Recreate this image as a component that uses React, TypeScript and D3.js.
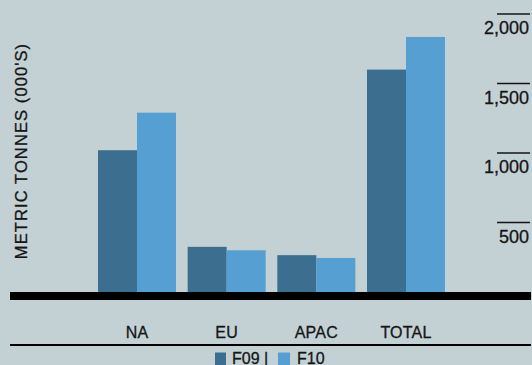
import React from "react";
import * as d3 from "d3";

// Regional volumes, metric tonnes (000's)
const categories = ["NA", "EU", "APAC", "TOTAL"];
const seriesNames = ["F09", "F10"];
const f09Values = [1020, 325, 265, 1600];
const f10Values = [1290, 300, 245, 1835];
const tickValues = [500, 1000, 1500, 2000];
const yTitle = "METRIC TONNES (000'S)";

const W = 532;
const H = 365;
const BG = "#c3d1d5";
const COLORS = ["#3c6e8f", "#569fd3"];
const INK = "#151515";
const FONT = "'Liberation Sans', Arial, sans-serif";

export default function App() {
  const baseline = 292;
  const y = d3.scaleLinear().domain([0, 2000]).range([baseline, 14]);
  const x = d3.scaleBand<string>().domain(categories).range([98, 445]).paddingInner(0.13).paddingOuter(0);
  const xs = d3.scaleBand<string>().domain(seriesNames).range([0, x.bandwidth()]).padding(0);
  const color = d3.scaleOrdinal<string, string>().domain(seriesNames).range(COLORS);

  const series = [f09Values, f10Values];
  const textStyle = { fill: INK, stroke: INK, strokeWidth: 0.3 };

  return (
    <svg
      width={W}
      height={H}
      style={{ position: "absolute", left: 0, top: 0, background: BG, fontFamily: FONT }}
    >
      <rect x={0} y={0} width={W} height={H} fill={BG} />

      {/* bars */}
      {categories.map((c, i) => (
        <g key={c} transform={`translate(${x(c)},0)`}>
          {seriesNames.map((s, j) => {
            const v = series[j][i];
            return (
              <rect
                key={s}
                x={xs(s)}
                y={y(v)}
                width={xs.bandwidth()}
                height={baseline - y(v)}
                fill={color(s)}
              />
            );
          })}
        </g>
      ))}

      {/* right-hand value axis */}
      {tickValues.map((t) => (
        <g key={t}>
          <line x1={497} x2={530} y1={y(t)} y2={y(t)} stroke={INK} strokeWidth={1.3} />
          <text x={529} y={y(t) + 20} textAnchor="end" fontSize={18} {...textStyle}>
            {d3.format(",")(t)}
          </text>
        </g>
      ))}

      {/* base axis */}
      <rect x={10} y={baseline} width={521} height={8} fill="#000" />

      {/* category labels */}
      {categories.map((c) => (
        <text
          key={c}
          x={(x(c) ?? 0) + x.bandwidth() / 2}
          y={338}
          textAnchor="middle"
          fontSize={16}
          letterSpacing={0.2}
          {...textStyle}
        >
          {c}
        </text>
      ))}

      <rect x={10} y={344} width={521} height={2} fill="#000" />

      {/* legend */}
      <g>
        <rect x={215} y={352.5} width={11} height={14} fill={COLORS[0]} />
        <text x={232} y={364} fontSize={16} {...textStyle}>
          {seriesNames[0]} |
        </text>
        <rect x={278} y={352.5} width={12} height={14} fill={COLORS[1]} />
        <text x={297} y={364} fontSize={16} {...textStyle}>
          {seriesNames[1]}
        </text>
      </g>

      {/* value axis title */}
      <text
        transform={`translate(27,151) rotate(-90)`}
        textAnchor="middle"
        fontSize={16.5}
        letterSpacing={1.1}
        {...textStyle}
      >
        {yTitle}
      </text>
    </svg>
  );
}
